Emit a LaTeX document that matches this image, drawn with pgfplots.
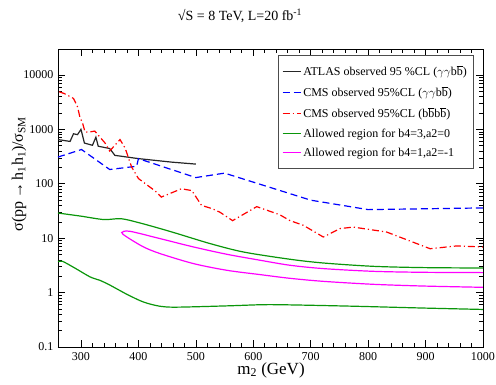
\documentclass[border=0pt]{standalone}
\usepackage{pgfplots}
\pgfplotsset{compat=1.18}
\usepackage{fontspec}
\setmainfont{Liberation Serif}
\definecolor{mygreen}{RGB}{10,150,10}
\definecolor{mymag}{RGB}{255,0,255}
\newcommand{\bbar}{$\overline{\mbox{b}}$}
\begin{document}
\begin{tikzpicture}[x=1pt,y=1pt]
\useasboundingbox (0,0) rectangle (496,384);
\begin{axis}[
  at={(58pt,37pt)}, anchor=south west,
  scale only axis, width=425pt, height=298pt,
  xmin=260, xmax=1000, ymode=log, ymin=0.1, ymax=30000,
  xtick={300,400,...,1000}, minor x tick num=4,
  ytick={0.1,1,10,100,1000,10000},
  log ticks with fixed point,
  /pgf/number format/1000 sep={},
  /pgf/number format/assume math mode=true,
  tick align=inside, major tick length=7pt, minor tick length=4pt,
  tick style={black, line width=0.6pt},
  axis line style={line width=0.8pt},
  ticklabel style={font=\fontsize{12}{12}\selectfont},
  xticklabel style={yshift=-2pt},
  yticklabel style={xshift=-1pt},
  legend style={at={(1,1)}, anchor=north east, xshift=-10pt, yshift=-6pt,
    draw=black!70, font=\fontsize{12}{12}\selectfont,
    row sep=5.3pt, inner xsep=4pt, inner ysep=8pt},
  legend cell align=left,
  legend image code/.code={\draw[#1, line width=1.2pt] (0pt,0pt) -- (18pt,0pt);},
]
\addplot[draw=black!85, line width=1.2pt] coordinates {
(260,650) (281,600) (287,830) (294,800) (300,1000) (306,560) (320,510) (326,720) (330,490) (350,445) (359,333) (400,290) (458,250) (500,230)};
\addlegendentry{ATLAS observed 95 \%CL ($\gamma\gamma$b\bbar)}
\addplot[draw=blue, line width=1.2pt, dash pattern=on 7pt off 4pt] coordinates {
(260,310) (301,426) (350,183) (397,210) (400,290) (500,130) (550,157) (700,50) (800,33.5) (1000,36)};
\addlegendentry{CMS observed 95\%CL ($\gamma\gamma$b\bbar)}
\addplot[draw=red, line width=1.2pt, dash pattern=on 7pt off 3pt on 1.2pt off 3pt] coordinates {
(262,4900) (271,4550) (287,3700) (294,2600) (298,1700) (303,1280) (307,900) (313,890) (324,930) (342,560) (350,400) (368,650) (377,450) (388,205) (400,125) (429,74) (440,57) (475,81) (493,75) (510,40) (528,35) (542,30) (564,21) (606,38) (646,27) (664,21) (687,17.3) (722,10.5) (751,15) (774,16) (832,13) (908,6.4) (954,7.2) (1000,6.9)};
\addlegendentry{CMS observed 95\%CL (b\bbar b\bbar)}
\addplot[draw=mygreen, line width=1.2pt, smooth, tension=0.5] coordinates {
(260,29) (300,25.4) (340,22) (370,22.8) (403,19) (438,15) (467,12.2) (525,7.95) (583,5.57) (664,4.1) (722,3.5) (809,3.04) (896,2.88) (1000,2.83)};
\addlegendentry{Allowed region for b4=3,a2=0}
\addplot[draw=mymag, line width=1.2pt, smooth, tension=0.5] coordinates {
(1000,1.25) (896,1.32) (809,1.42) (722,1.61) (664,1.83) (612,2.14) (554,2.57) (496,3.41) (438,5.2) (409,6.9) (380,10.5) (371,12.7) (385,13.4) (438,9.8) (496,6.9) (554,5.06) (612,3.93) (664,3.18) (722,2.76) (809,2.46) (896,2.36) (1000,2.33)};
\addlegendentry{Allowed region for b4=1,a2=-1}
\addplot[draw=mygreen, line width=1.2pt, smooth, tension=0.5, forget plot] coordinates {
(260,3.7) (268,3.75) (290,2.8) (316,1.94) (333,1.68) (350,1.38) (380,0.93) (409,0.67) (438,0.56) (467,0.54) (554,0.57) (620,0.60) (681,0.59) (780,0.56) (896,0.52) (1000,0.49)};
\end{axis}
\node at (240,368) {\fontsize{14}{14}\selectfont √S = 8 TeV, L=20 fb\textsuperscript{-1}};
\node[rotate=90] at (19,210) {\fontsize{16}{16}\selectfont σ(pp\,→\,h\textsubscript{1}h\textsubscript{1})/σ\textsubscript{SM}};
\node at (271,14) {\fontsize{17}{17}\selectfont m\textsubscript{2} (GeV)};
\end{tikzpicture}
\end{document}
